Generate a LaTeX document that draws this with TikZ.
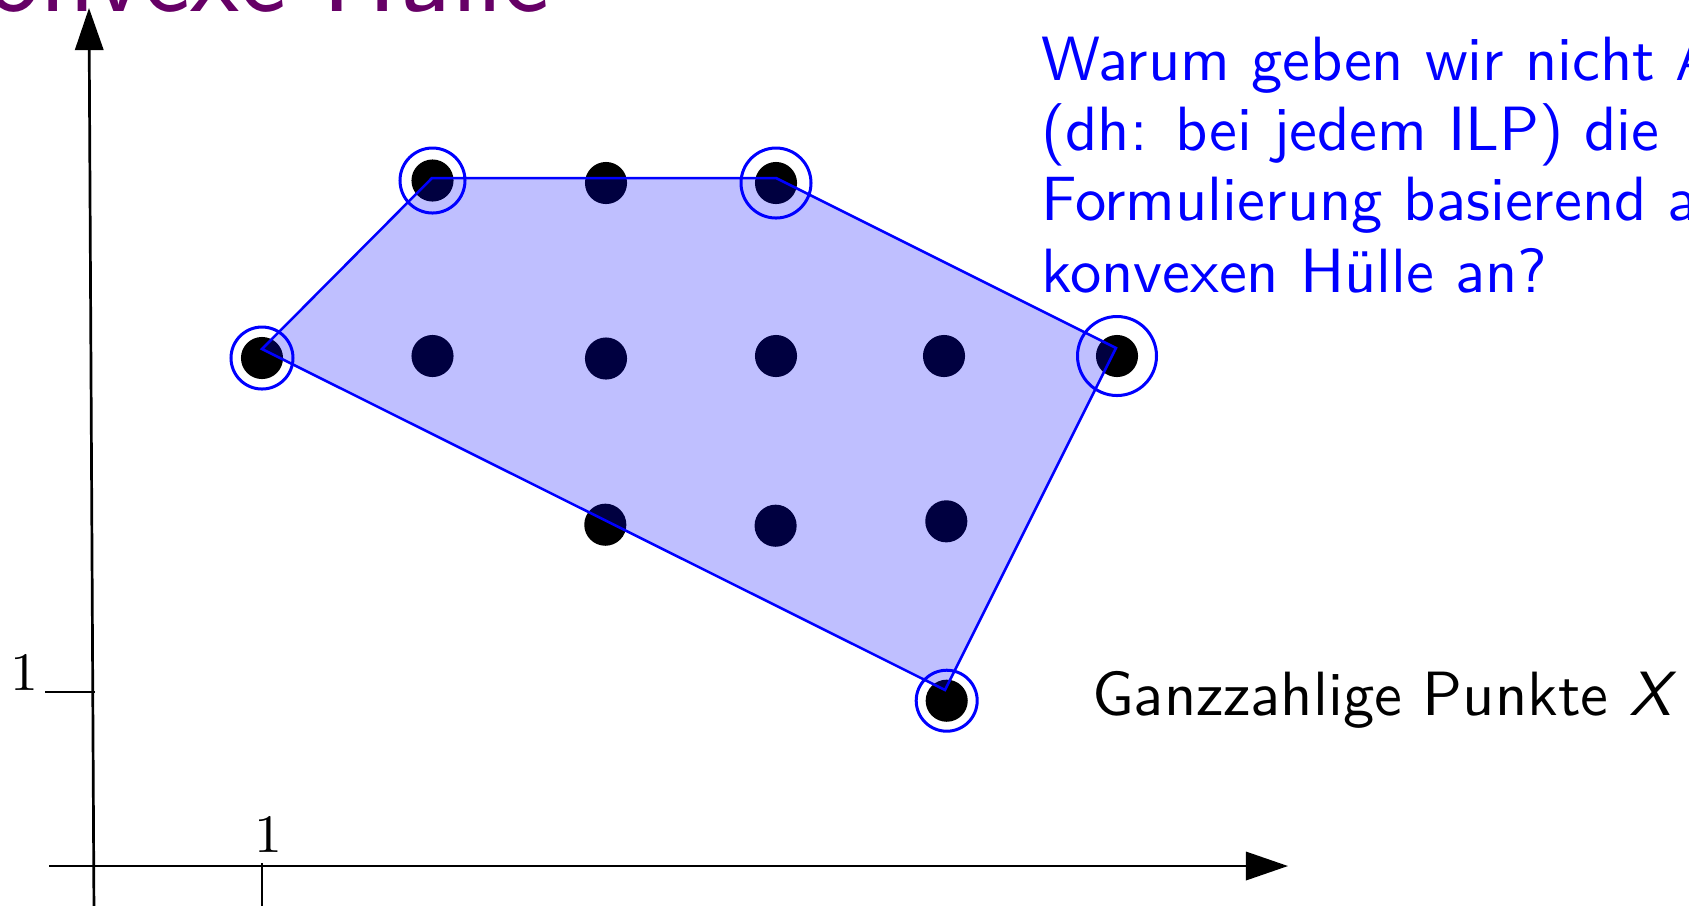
\documentclass[tikz,border=0pt]{standalone}
\usepackage{fontspec}
\usetikzlibrary{arrows.meta}
\definecolor{titlepurple}{RGB}{102,0,102}
\begin{document}
\begin{tikzpicture}[x=0.0058480cm, y=-0.0058480cm, font=\sffamily,
  dot/.style={circle, fill=black, inner sep=0pt, minimum size=7pt},
  ring/.style={draw=blue, line width=0.5pt},
  hull/.style={draw=blue, line width=0.42pt, line join=miter},
  hullfill/.style={fill=blue, fill opacity=0.25},
  axis/.style={draw=black, line width=0.45pt, -{Triangle[length=7pt,width=4.7pt]}},
  tickline/.style={draw=black, line width=0.45pt},
  bluetext/.style={anchor=base west, inner sep=0pt, text=blue, font=\sffamily\fontsize{10.4}{11.7}\selectfont},
  blacktext/.style={anchor=base west, inner sep=0pt, text=black, font=\sffamily\fontsize{10.4}{11.7}\selectfont},
  ticklabel/.style={inner sep=0pt, font=\fontsize{8.8}{10}\selectfont}]
\useasboundingbox (0,0) rectangle (1689,905);

% axes
\coordinate (ybot) at (94,915);
\coordinate (ytop) at (89,8);
\coordinate (xleft) at (49,866);
\coordinate (xright) at (1288,866);
\draw[axis] (ybot) -- (ytop);
\draw[axis] (xleft) -- (xright);
\coordinate (xt1) at (262,863);
\coordinate (xt2) at (262,915);
\coordinate (yt1) at (45,692);
\coordinate (yt2) at (95,692);
\draw[tickline] (xt1) -- (xt2);
\draw[tickline] (yt1) -- (yt2);
\node[ticklabel, anchor=base] (xlab) at (268,852) {$1$};
\node[ticklabel, anchor=base east] (ylab) at (40,690) {$1$};

% integer points
\node[dot] (p13) at (262,358) {};
\node[dot] (p23) at (432.5,356) {};
\node[dot] (p33) at (606,358.5) {};
\node[dot] (p43) at (776,356) {};
\node[dot] (p53) at (944,356) {};
\node[dot] (p63) at (1117,356) {};
\node[dot] (p24) at (432.5,180.5) {};
\node[dot] (p34) at (606,183) {};
\node[dot] (p44) at (776,183) {};
\node[dot] (p32) at (605.3,524.7) {};
\node[dot] (p42) at (775.6,525.7) {};
\node[dot] (p52) at (946.3,521.3) {};
\node[dot] (p51) at (946.7,700.7) {};

% hull vertices
\coordinate (v1) at (262,349);
\coordinate (v2) at (432,178);
\coordinate (v3) at (776,178);
\coordinate (v4) at (1116,348);
\coordinate (v5) at (945,690);
\fill[hullfill] (v1) -- (v2) -- (v3) -- (v4) -- (v5) -- cycle;

% rings around hull points
\draw[ring] (p13) circle[radius=31];
\draw[ring] (p24) circle[radius=32.5];
\draw[ring] (p44) circle[radius=35];
\draw[ring] (p63) circle[radius=39.5];
\draw[ring] (p51) circle[radius=30.5];

\draw[hull] (v1) -- (v2) -- (v3) -- (v4) -- (v5) -- cycle;

% texts
\node[anchor=base east, inner sep=0pt, text=titlepurple, font=\sffamily\fontsize{18.8}{22}\selectfont] (title) at (551,11) {Konvexe Hülle};
\node[bluetext] (q1) at (1040,80) {Warum geben wir nicht A};
\node[bluetext] (q2) at (1040,150) {(dh: bei jedem ILP) die};
\node[bluetext] (q3) at (1040,220) {Formulierung basierend a};
\node[bluetext] (q4) at (1040,292) {konvexen Hülle an?};
\node[blacktext] (lab) at (1091,715) {Ganzzahlige Punkte \textit{X}};
\end{tikzpicture}
\end{document}
